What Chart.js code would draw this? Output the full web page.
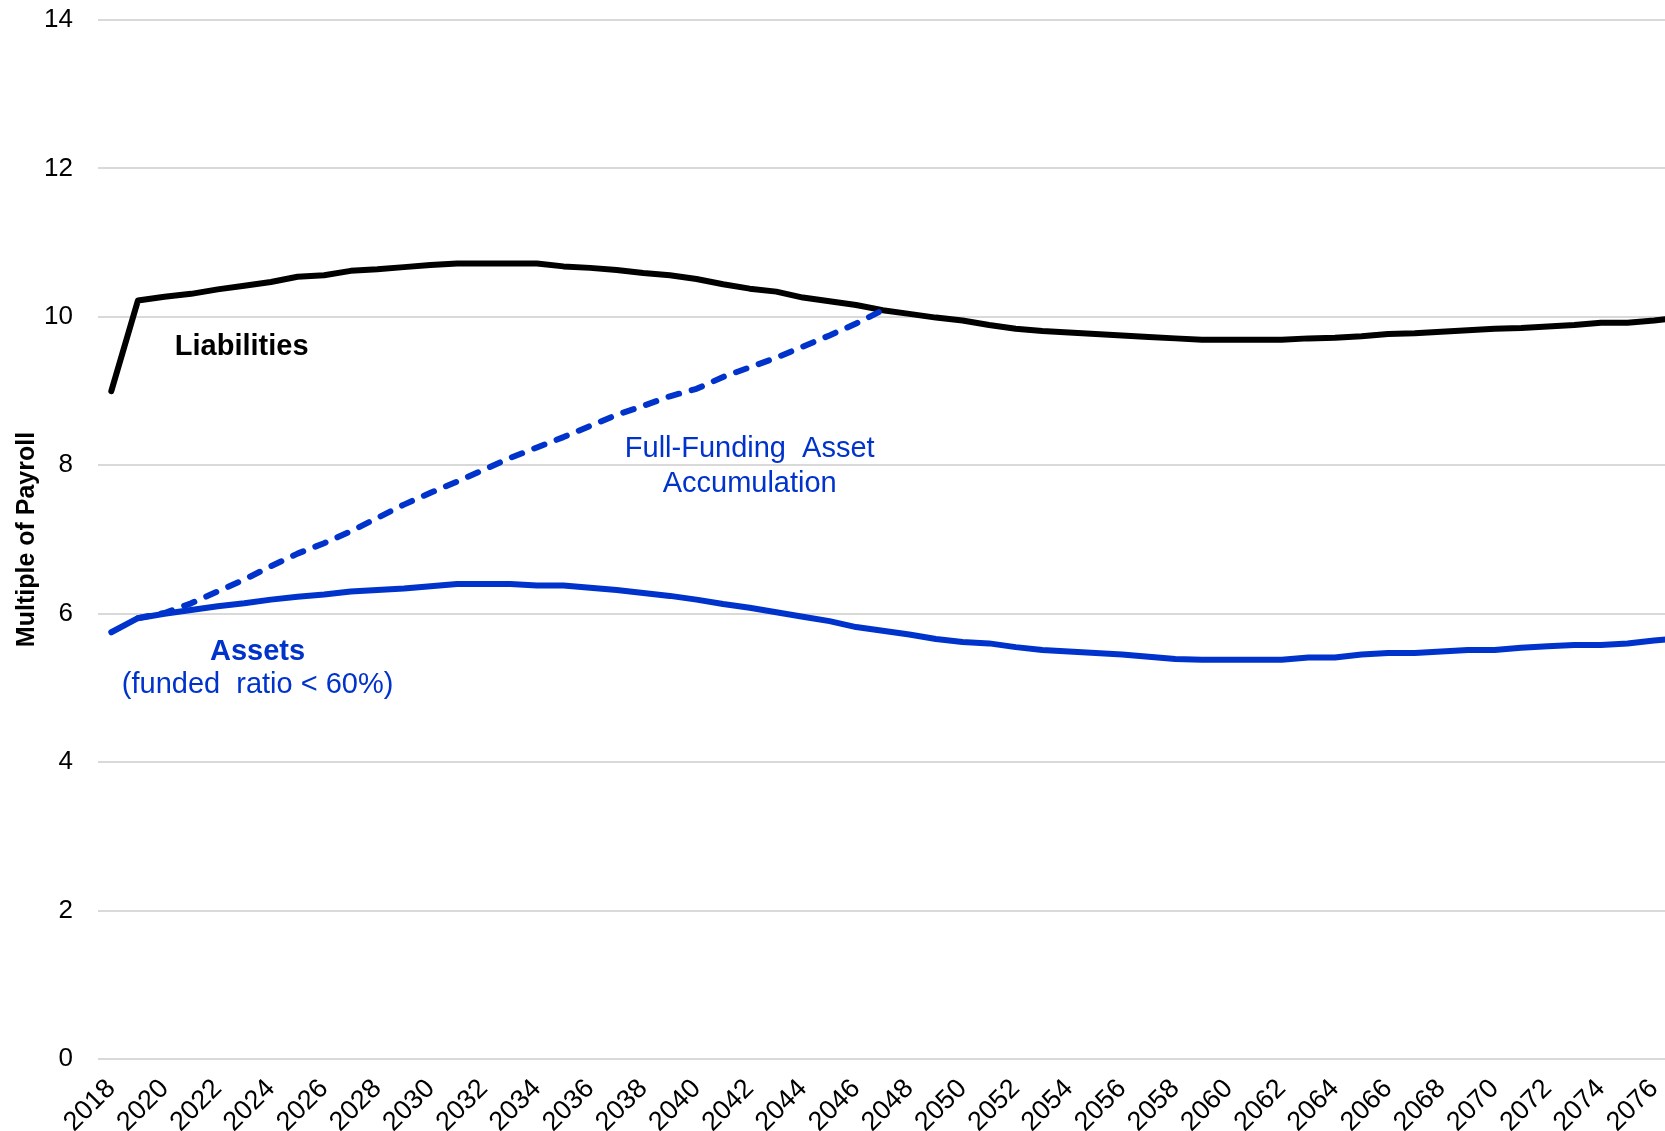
<!DOCTYPE html>
<html>
<head>
<meta charset="utf-8">
<script src="https://cdn.jsdelivr.net/npm/chart.js@4.4.1/dist/chart.umd.min.js"></script>
<style>
  html, body { margin: 0; padding: 0; overflow: hidden; background: #ffffff; }
  #wrap { width: 1694px; height: 1131px; }
</style>
</head>
<body>
<div id="wrap"><canvas id="c" width="1694" height="1131"></canvas></div>
<script>
// Projection years (the last one runs just past the visible frame)
const years = [
  2018, 2019, 2020, 2021, 2022, 2023, 2024, 2025, 2026, 2027,
  2028, 2029, 2030, 2031, 2032, 2033, 2034, 2035, 2036, 2037,
  2038, 2039, 2040, 2041, 2042, 2043, 2044, 2045, 2046, 2047,
  2048, 2049, 2050, 2051, 2052, 2053, 2054, 2055, 2056, 2057,
  2058, 2059, 2060, 2061, 2062, 2063, 2064, 2065, 2066, 2067,
  2068, 2069, 2070, 2071, 2072, 2073, 2074, 2075, 2076, 2077
];

// Liabilities, as a multiple of payroll
const liabilities = [
  9.00, 10.22, 10.27, 10.31, 10.37, 10.42, 10.47, 10.54, 10.56, 10.62,
  10.64, 10.67, 10.70, 10.72, 10.72, 10.72, 10.72, 10.68, 10.66, 10.63,
  10.59, 10.56, 10.51, 10.44, 10.38, 10.34, 10.26, 10.21, 10.16, 10.09,
  10.04, 9.99, 9.95, 9.89, 9.84, 9.81, 9.79, 9.77, 9.75, 9.73,
  9.71, 9.69, 9.69, 9.69, 9.69, 9.71, 9.72, 9.74, 9.77, 9.78,
  9.80, 9.82, 9.84, 9.85, 9.87, 9.89, 9.92, 9.92, 9.95, 9.99
];

// Assets, as a multiple of payroll
const assets = [
  5.75, 5.94, 6.00, 6.05, 6.10, 6.14, 6.19, 6.23, 6.26, 6.30,
  6.32, 6.34, 6.37, 6.40, 6.40, 6.40, 6.38, 6.38, 6.35, 6.32,
  6.28, 6.24, 6.19, 6.13, 6.08, 6.02, 5.96, 5.90, 5.82, 5.77,
  5.72, 5.66, 5.62, 5.60, 5.55, 5.51, 5.49, 5.47, 5.45, 5.42,
  5.39, 5.38, 5.38, 5.38, 5.38, 5.41, 5.41, 5.45, 5.47, 5.47,
  5.49, 5.51, 5.51, 5.54, 5.56, 5.58, 5.58, 5.60, 5.64, 5.67
];

// Asset path needed to reach full funding
const fullFunding = [
  null, 5.94, 6.01, 6.14, 6.30, 6.46, 6.64, 6.81, 6.95, 7.11,
  7.29, 7.47, 7.63, 7.78, 7.94, 8.10, 8.24, 8.38, 8.53, 8.68,
  8.80, 8.93, 9.03, 9.19, 9.32, 9.45, 9.60, 9.75, 9.91, 10.09,
  null, null, null, null, null, null, null, null, null, null,
  null, null, null, null, null, null, null, null, null, null,
  null, null, null, null, null, null, null, null, null, null
];

// Value axis ticks
const yTicks = [0, 2, 4, 6, 8, 10, 12, 14];

const BLUE = '#0033cc';
const FONT = '"Liberation Sans", Arial, Helvetica, sans-serif';

// In-plot labels, anchored in data space (year, value)
const notes = [
  { lines: ['Liabilities'], year: 2022.9, value: 9.60, color: '#000000', weight: 'bold', size: 29 },
  { lines: ['Full-Funding  Asset', 'Accumulation'], year: 2042.0, value: 8.22, color: BLUE, weight: 'normal', size: 29, step: 0.47 },
  { lines: ['Assets'], year: 2023.5, value: 5.49, color: BLUE, weight: 'bold', size: 29 },
  { lines: ['(funded  ratio < 60%)'], year: 2023.5, value: 5.04, color: BLUE, weight: 'normal', size: 29 }
];

const notesPlugin = {
  id: 'notes',
  afterDatasetsDraw(chart) {
    const ctx = chart.ctx;
    const xs = chart.scales.x, ys = chart.scales.y;
    ctx.save();
    ctx.textAlign = 'center';
    ctx.textBaseline = 'middle';
    notes.forEach(n => {
      ctx.fillStyle = n.color;
      ctx.font = n.weight + ' ' + n.size + 'px ' + FONT;
      const px = xs.getPixelForValue(n.year - years[0]);
      n.lines.forEach((line, i) => {
        const py = ys.getPixelForValue(n.value - i * (n.step || 0));
        ctx.fillText(line, px, py);
      });
    });
    ctx.restore();
  }
};

new Chart(document.getElementById('c'), {
  type: 'line',
  data: {
    labels: years,
    datasets: [
      {
        label: 'Full-Funding Asset Accumulation',
        data: fullFunding,
        borderColor: BLUE,
        borderWidth: 6,
        borderDash: [11, 13],
        borderCapStyle: 'round',
        borderJoinStyle: 'round',
        pointRadius: 0,
        tension: 0,
        spanGaps: false,
        order: 0
      },
      {
        label: 'Assets',
        data: assets,
        borderColor: BLUE,
        borderWidth: 6,
        borderCapStyle: 'round',
        borderJoinStyle: 'round',
        pointRadius: 0,
        tension: 0,
        order: 1
      },
      {
        label: 'Liabilities',
        data: liabilities,
        borderColor: '#000000',
        borderWidth: 6,
        borderCapStyle: 'round',
        borderJoinStyle: 'round',
        pointRadius: 0,
        tension: 0,
        order: 2
      }
    ]
  },
  options: {
    responsive: false,
    animation: false,
    devicePixelRatio: 1,
    layout: { padding: 0 },
    plugins: { legend: { display: false }, tooltip: { enabled: false } },
    scales: {
      x: {
        type: 'category',
        offset: true,
        grid: { display: false },
        border: { display: false },
        ticks: {
          autoSkip: false,
          maxRotation: 45,
          minRotation: 45,
          padding: 6,
          color: '#000000',
          font: { family: FONT, size: 27 },
          callback: function (value, index) {
            const yr = years[index];
            return yr % 2 === 0 ? String(yr) : null;
          }
        },
        afterFit(scale) { scale.height = 72; }
      },
      y: {
        min: 0,
        max: 14,
        afterBuildTicks(scale) { scale.ticks = yTicks.map(v => ({ value: v })); },
        grid: { color: '#d9d9d9', lineWidth: 2, drawTicks: false },
        border: { display: false },
        ticks: {
          padding: 25,
          color: '#000000',
          font: { family: FONT, size: 26 }
        },
        title: {
          display: true,
          text: 'Multiple of Payroll',
          color: '#000000',
          font: { family: FONT, size: 25, weight: 'bold' },
          padding: { top: 12, bottom: 0 }
        },
        afterFit(scale) {
          scale.width = 98;
          scale.paddingTop = 20;
          scale.paddingBottom = 0;
        }
      }
    }
  },
  plugins: [notesPlugin]
});
</script>
</body>
</html>
